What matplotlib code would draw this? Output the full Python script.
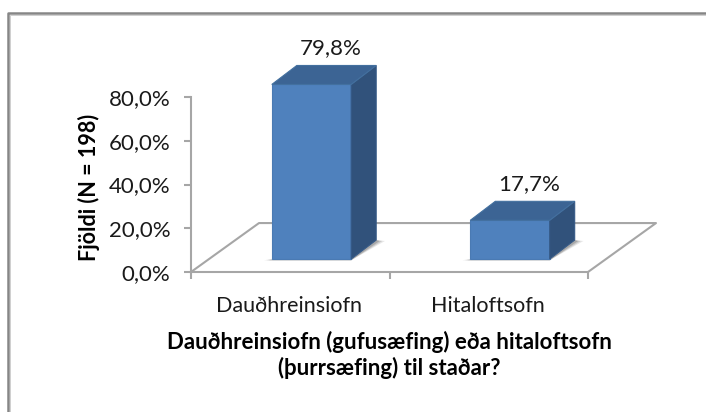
import matplotlib
matplotlib.use('Agg')
import matplotlib.pyplot as plt
from matplotlib.patches import Polygon

plt.rcParams['font.family'] = ['Lato', 'DejaVu Sans']

categorias = ['Dauðhreinsiofn', 'Hitaloftsofn']
valores = [79.8, 17.7]
rotulos = ['79,8%', '17,7%']
ticks_y = [0, 20, 40, 60, 80]
ticks_y_txt = ['0,0%', '20,0%', '40,0%', '60,0%', '80,0%']

W, H = 706, 412
fig = plt.figure(figsize=(W / 100, H / 100), dpi=100)

# moldura do grafico: so esquerda e topo aparecem no recorte
fig.add_artist(plt.Line2D([8 / W, 8 / W, 1], [0, 1 - 13 / H, 1 - 13 / H], transform=fig.transFigure,
                          color='#868686', lw=1.8))
fig.add_artist(plt.Line2D([9.8 / W, 9.8 / W, 1], [0, 1 - 14.8 / H, 1 - 14.8 / H], transform=fig.transFigure,
                          color='#cfcfcf', lw=0.7))

# eixo: x de 191 a 588 px, y de 272 a 97 px (0 a 80)
ax = fig.add_axes([191 / W, 1 - 272 / H, 397 / W, 175 / H])
ax.set_xlim(-0.5, 1.5)
ax.set_ylim(0, 80)
ax.patch.set_visible(False)

# profundidade do piso em unidades dos dados
prof_x = 68 / 198.5
prof_y = 49 / 2.19
cinza = '#a6a6a6'

# piso
ax.plot([-0.5, -0.5 + prof_x, 1.5 + prof_x, 1.5],
        [0, prof_y, prof_y, 0], color=cinza, lw=1.5, clip_on=False, zorder=1)

larg = 0.4
desloc = 0.107
base = 13 / 2.19
dx = 25 / 198.5
dy = 19 / 2.19

for i, v in enumerate(valores):
    x0 = i + desloc - larg / 2
    x1 = x0 + larg
    # sombra no piso
    for k, a in [(1.0, 0.14), (0.7, 0.2), (0.4, 0.28)]:
        ax.add_patch(Polygon([[x0 - 0.04 * k, base - 0.6], [x1, base - 0.6],
                              [x1 + dx * (1 + 0.35 * k), base + dy * 0.95], [x1 + dx, base + dy]],
                             closed=True, facecolor='#555555', edgecolor='none', alpha=a,
                             clip_on=False, zorder=2))
    topo = base + v
    # frente
    ax.add_patch(Polygon([[x0, base], [x1, base], [x1, topo], [x0, topo]], closed=True,
                         facecolor='#4f81bd', edgecolor='#4a7ab3', lw=0.8, clip_on=False, zorder=3))
    # lateral
    ax.add_patch(Polygon([[x1, base], [x1 + dx, base + dy], [x1 + dx, topo + dy], [x1, topo]], closed=True,
                         facecolor='#31527b', edgecolor='#365a87', lw=0.8, clip_on=False, zorder=3))
    # topo
    ax.add_patch(Polygon([[x0, topo], [x1, topo], [x1 + dx, topo + dy], [x0 + dx, topo + dy]], closed=True,
                         facecolor='#3c6494', edgecolor='#43709f', lw=0.8, clip_on=False, zorder=3))
    ax.text(i + 0.205, topo + dy + 3.4, rotulos[i], ha='center', va='bottom',
            fontsize=16, color='#1a1a1a', clip_on=False)

# eixos
for s in ['top', 'right']:
    ax.spines[s].set_visible(False)
for s in ['left', 'bottom']:
    ax.spines[s].set_color(cinza)
    ax.spines[s].set_linewidth(1.5)

ax.set_yticks(ticks_y)
ax.set_yticklabels(ticks_y_txt, fontsize=16, color='#1a1a1a')
ax.set_xticks([-0.5, 0.5, 1.5])
ax.set_xticklabels([])
ax.tick_params(axis='both', color=cinza, width=1.5, length=5)
ax.tick_params(axis='y', pad=10)

for i, c in enumerate(categorias):
    ax.annotate(c, xy=(i, 0), xycoords=('data', 'axes fraction'), xytext=(-1, -34), textcoords='offset pixels',
                ha='center', va='center', fontsize=15.5, color='#1a1a1a')

ax.set_ylabel('Fjöldi (N = 198)', fontsize=15.5, fontweight='bold', color='black')
ax.yaxis.set_label_coords((100 - 191) / 397, 0.483)

fig.text(389 / W, 1 - 355 / H, 'Dauðhreinsiofn (gufusæfing) eða hitaloftsofn\n(þurrsæfing) til staðar?',
         ha='center', va='center', fontsize=16, fontweight='bold', color='black', linespacing=1.25)

fig.savefig('out.png', dpi=100)
